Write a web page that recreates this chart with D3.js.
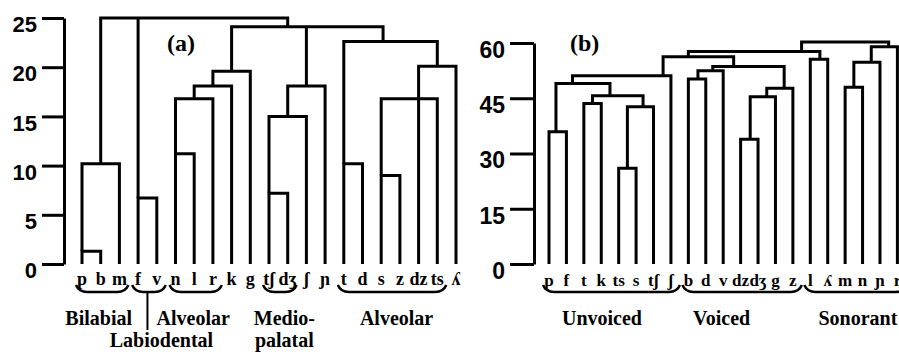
<!DOCTYPE html>
<html>
<head>
<meta charset="utf-8">
<script src="https://cdn.jsdelivr.net/npm/d3@7"></script>
<style>
  body { margin: 0; background: #fff; }
  svg { display: block; }
</style>
</head>
<body>
<svg id="chart" width="899" height="354"></svg>
<script>
// ---- data: panel (a) ----
const leavesA = ["p","b","m","f","v","n","l","r","k","g","tʃ","dʒ","ʃ","ɲ","t","d","s","z","dz","ts","ʎ"];
const ticksA = [0, 5, 10, 15, 20, 25];
// merges: height of the join, leaf-order position of the stem, children (leaf index or merge id)
const mergesA = [
  { id: "pb",     h: 1.3,  at: 0,    kids: [0, 1] },
  { id: "pbm",    h: 10.2, at: 1,    kids: ["pb", 2] },
  { id: "fv",     h: 6.7,  at: 3,    kids: [3, 4] },
  { id: "nl",     h: 11.2, at: 5,    kids: [5, 6] },
  { id: "nlr",    h: 16.8, at: 6,    kids: ["nl", 7] },
  { id: "nlrk",   h: 18.1, at: 7,    kids: ["nlr", 8] },
  { id: "nlrkg",  h: 19.6, at: 8,    kids: ["nlrk", 9] },
  { id: "tsdz",   h: 7.2,  at: 10,   kids: [10, 11] },
  { id: "tsdzs",  h: 15.0, at: 11,   kids: ["tsdz", 12] },
  { id: "medio",  h: 18.1, at: 12,   kids: ["tsdzs", 13] },
  { id: "td",     h: 10.2, at: 14,   kids: [14, 15] },
  { id: "sz",     h: 9.0,  at: 16,   kids: [16, 17] },
  { id: "szts",   h: 16.8, at: 18,   kids: ["sz", 18, 19] },
  { id: "sztsl",  h: 20.1, at: 19,   kids: ["szts", 20] },
  { id: "alv",    h: 22.6, at: 16.1, kids: ["td", "sztsl"] },
  { id: "ling",   h: 24.1, at: 11,   kids: ["nlrkg", "medio", "alv"] },
  { id: "root",   h: 25.0, at: 11,   kids: ["pbm", "fv", "ling"] }
];
const groupsA = [
  { name: ["Bilabial"],          first: 0,  last: 2 },
  { name: ["Labiodental"],       first: 3,  last: 4 },
  { name: ["Alveolar"],          first: 5,  last: 7 },
  { name: ["Medio-", "palatal"], first: 10, last: 11 },
  { name: ["Alveolar"],          first: 14, last: 19 }
];

// ---- data: panel (b) ----
const leavesB = ["p","f","t","k","ts","s","tʃ","ʃ","b","d","v","dz","dʒ","g","z","l","ʎ","m","n","ɲ","r"];
const ticksB = [0, 15, 30, 45, 60];
const mergesB = [
  { id: "pf",     h: 35.9, at: 0.4,  kids: [0, 1] },
  { id: "tk",     h: 43.6, at: 2.5,  kids: [2, 3] },
  { id: "tss",    h: 26.0, at: 4.5,  kids: [4, 5] },
  { id: "tsst",   h: 42.7, at: 5.4,  kids: ["tss", 6] },
  { id: "tk2",    h: 45.7, at: 3.5,  kids: ["tk", "tsst"] },
  { id: "pf2",    h: 49.0, at: 1.35, kids: ["pf", "tk2"] },
  { id: "unv",    h: 51.1, at: 6.55, kids: ["pf2", 7] },
  { id: "bd",     h: 50.2, at: 8.55, kids: [8, 9] },
  { id: "bdv",    h: 52.5, at: 9.4,  kids: ["bd", 10] },
  { id: "dzdz",   h: 33.9, at: 11.55, kids: [11, 12] },
  { id: "dzg",    h: 45.4, at: 12.5, kids: ["dzdz", 13] },
  { id: "dzgz",   h: 47.7, at: 13.5, kids: ["dzg", 14] },
  { id: "vcd",    h: 53.6, at: 10.6, kids: ["bdv", "dzgz"] },
  { id: "obs",    h: 56.3, at: 8,    kids: ["unv", "vcd"] },
  { id: "ll",     h: 55.6, at: 15.55, kids: [15, 16] },
  { id: "obsll",  h: 57.7, at: 14.5, kids: ["obs", "ll"] },
  { id: "mn",     h: 48.0, at: 17.5, kids: [17, 18] },
  { id: "mnn",    h: 54.8, at: 18.5, kids: ["mn", 19] },
  { id: "mnnr",   h: 59.0, at: 19.5, kids: ["mnn", 20] },
  { id: "root",   h: 60.3, at: 17,   kids: ["obsll", "mnnr"] }
];
const groupsB = [
  { name: ["Unvoiced"], first: 0,  last: 7 },
  { name: ["Voiced"],   first: 8,  last: 14 },
  { name: ["Sonorant"], first: 15, last: 20 }
];

// ---- layout ----
const serif = '"Liberation Serif", "Times New Roman", serif';
const sans = '"Liberation Sans", Arial, sans-serif';
const baseY = 264;

const svg = d3.select('#chart');
svg.append('rect').attr('width', 899).attr('height', 354).attr('fill', '#fff');

function drawPanel(p) {
  const g = svg.append('g');
  const x = d3.scaleLinear().domain([0, p.leaves.length - 1]).range(p.xRange);
  const y = d3.scaleLinear().domain([0, d3.max(p.ticks)]).range([baseY, p.yTop]);

  // y axis
  const ax = g.append('g')
    .attr('transform', `translate(${p.axisX},0)`)
    .call(d3.axisLeft(y).tickValues(p.ticks).tickSize(p.tickLen).tickSizeOuter(0).tickPadding(5));
  ax.select('.domain').attr('stroke', '#000').attr('stroke-width', 3);
  ax.selectAll('.tick line').attr('stroke', '#000').attr('stroke-width', 3);
  ax.selectAll('.tick text')
    .attr('fill', '#000')
    .attr('font-family', sans)
    .attr('font-weight', 'bold')
    .attr('font-size', p.tickFont)
    .attr('dy', '0.62em');

  // dendrogram links
  const byId = new Map(p.merges.map(m => [m.id, m]));
  const node = k => typeof k === 'number' ? { at: k, h: 0 } : byId.get(k);
  g.append('g').selectAll('path')
    .data(p.merges)
    .join('path')
    .attr('d', m => {
      const kids = m.kids.map(node).sort((a, b) => a.at - b.at);
      const a = kids[0], b = kids[kids.length - 1];
      let d = `M${x(a.at)},${y(a.h)}V${y(m.h)}H${x(b.at)}V${y(b.h)}`;
      kids.slice(1, -1).forEach(k => { d += `M${x(k.at)},${y(k.h)}V${y(m.h)}`; });
      return d;
    })
    .attr('fill', 'none')
    .attr('stroke', '#000')
    .attr('stroke-width', 3);

  // leaf labels
  g.append('g').selectAll('text')
    .data(p.leaves)
    .join('text')
    .attr('x', (d, i) => x(i))
    .attr('y', p.leafY)
    .attr('text-anchor', 'middle')
    .attr('font-family', serif)
    .attr('font-weight', 'bold')
    .attr('font-size', p.leafFont)
    .text(d => d);

  // braces under groups
  g.append('g').selectAll('path')
    .data(p.groups)
    .join('path')
    .attr('d', gr => {
      const x0 = x(gr.first) - 6, x1 = x(gr.last) + 9;
      return `M${x0},285Q${x0 + 3},292 ${x0 + 11},292H${x1 - 11}Q${x1 - 3},292 ${x1},285`;
    })
    .attr('fill', 'none')
    .attr('stroke', '#000')
    .attr('stroke-width', 2.5);

  // group names
  p.groups.forEach((gr, i) => {
    const lay = p.groupLayout[i];
    const cx = (x(gr.first) + x(gr.last)) / 2;
    if (lay.row === 1) {
      g.append('line')
        .attr('x1', cx).attr('x2', cx)
        .attr('y1', 292).attr('y2', 330)
        .attr('stroke', '#000').attr('stroke-width', 2);
    }
    gr.name.forEach((line, j) => {
      g.append('text')
        .attr('x', cx + lay.dx)
        .attr('y', p.rowY[lay.row + j])
        .attr('text-anchor', 'middle')
        .attr('font-family', serif)
        .attr('font-weight', 'bold')
        .attr('font-size', 20)
        .text(line);
    });
  });

  // panel tag
  g.append('text')
    .attr('x', p.tagX).attr('y', 51)
    .attr('font-family', serif)
    .attr('font-weight', 'bold')
    .attr('font-size', 24)
    .text(p.tag);
}

drawPanel({
  tag: '(a)', tagX: 167,
  leaves: leavesA, merges: mergesA, ticks: ticksA, groups: groupsA,
  xRange: [82, 456], yTop: 18, axisX: 64, tickLen: 22, tickFont: 22,
  leafY: 285, leafFont: 18, rowY: [325, 347],
  groupLayout: [{ dx: -2, row: 0 }, { dx: 14, row: 1 }, { dx: -1, row: 0 }, { dx: 6, row: 0 }, { dx: 6, row: 0 }]
});

drawPanel({
  tag: '(b)', tagX: 570,
  leaves: leavesB, merges: mergesB, ticks: ticksB, groups: groupsB,
  xRange: [549, 897.4], yTop: 43, axisX: 534, tickLen: 24, tickFont: 23,
  leafY: 286, leafFont: 17, rowY: [325, 347],
  groupLayout: [{ dx: -8, row: 0 }, { dx: -19, row: 0 }, { dx: 4, row: 0 }]
});
</script>
</body>
</html>
